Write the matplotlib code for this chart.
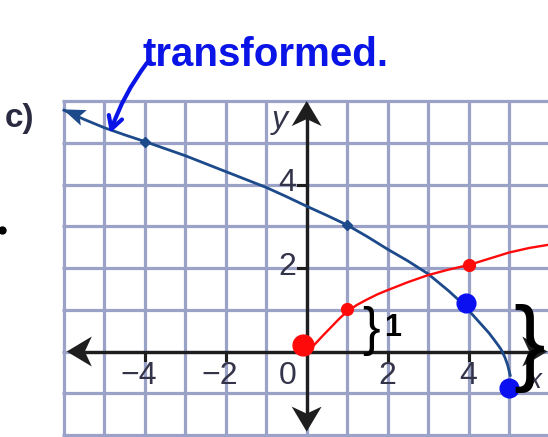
import matplotlib
matplotlib.use("Agg")
import matplotlib.pyplot as plt
from matplotlib.patches import Polygon

# ---------------- data ----------------
blue_x = [-6.0, -5.5, -5.0, -4.5, -4.0, -3.5, -3.0, -2.5, -2.0, -1.5, -1.0, -0.5, 0.0, 0.5, 1.0,
          1.5, 2.0, 2.5, 3.0, 3.5, 3.75, 4.0, 4.25, 4.5, 4.65, 4.8, 4.9, 4.97, 5.03]
blue_y = [5.78, 5.56, 5.36, 5.19, 5.03, 4.86, 4.69, 4.5, 4.31, 4.12, 3.93, 3.71, 3.48, 3.26, 3.03,
          2.75, 2.45, 2.17, 1.86, 1.46, 1.24, 0.99, 0.72, 0.45, 0.26, 0.06, -0.14, -0.33, -0.57]
blue_small_x = [-4, 1]
blue_small_y = [5.03, 3.03]
blue_dot_x = [3.93, 5.0]
blue_dot_y = [1.15, -0.87]

red_x = [0.0, 0.16, 0.4, 0.58, 0.8, 1.0, 1.25, 1.5, 1.75, 2.0, 2.5, 3.0, 3.5, 4.0, 4.5, 5.0, 5.5, 6.0]
red_y = [0.02, 0.13, 0.38, 0.56, 0.78, 0.96, 1.12, 1.25, 1.37, 1.47, 1.66, 1.83, 1.96, 2.07, 2.22, 2.37, 2.48, 2.56]
red_dot_x = [1.0, 4.0]
red_dot_y = [1.03, 2.07]
red_blob_x = [-0.08]
red_blob_y = [0.16]

xtick_pos = [-4, -2, 2, 4]
xtick_labels = ["−4", "−2", "2", "4"]
ytick_pos = [2, 4]
ytick_labels = ["2", "4"]

# ---------------- figure ----------------
fig = plt.figure(figsize=(5.48, 4.37), dpi=100)
fig.patch.set_facecolor("white")
ax = fig.add_axes([0, 0, 1, 1])
ax.set_xlim(-7.58, 5.965)
ax.set_ylim(-2.048, 8.42)
ax.axis("off")

grid_c = "#9aa2c8"
for gx in range(-6, 7):
    ax.plot([gx, gx], [-2, 6], color=grid_c, lw=2.3, zorder=1, solid_capstyle="butt")
for gy in range(-2, 7):
    ax.plot([-6.04, 6.04], [gy, gy], color=grid_c, lw=2.3, zorder=1, solid_capstyle="butt")

# axes
axc = "#1e1e1e"
ax.plot([-5.6, 5.6], [0, 0], color=axc, lw=2.4, zorder=3)
ax.plot([0, 0], [-1.6, 5.6], color=axc, lw=2.4, zorder=3)


def stealth(tip, direction, L=0.62, W=0.36, notch=0.72, color=axc, z=4):
    tx, ty = tip
    dx, dy = direction
    px, py = -dy, dx
    back = (tx - dx * L, ty - dy * L)
    p1 = (back[0] + px * W, back[1] + py * W)
    p2 = (back[0] - px * W, back[1] - py * W)
    nt = (tx - dx * L * notch, ty - dy * L * notch)
    ax.add_patch(Polygon([tip, p1, nt, p2], closed=True, color=color, zorder=z, lw=0))


stealth((-5.93, 0), (-1, 0))
stealth((5.95, 0), (1, 0))
stealth((0, 6.0), (0, 1), L=0.6, W=0.37)
stealth((0, -1.92), (0, -1), L=0.6, W=0.37)

# ticks
for t in xtick_pos:
    ax.plot([t, t], [0, -0.2], color=axc, lw=2.2, zorder=3)
for t in ytick_pos:
    ax.plot([-0.21, 0], [t, t], color=axc, lw=2.2, zorder=3)

lab_c = "#33334a"
fnt = "Liberation Sans"
for t, s in zip(xtick_pos, xtick_labels):
    ax.text(t - (0.14 if s.startswith("−") else 0), -0.575, s, fontsize=23, family=fnt,
            color=lab_c, ha="center", va="center", zorder=5)
ax.text(-0.47, -0.575, "0", fontsize=23, family=fnt, color=lab_c, ha="center", va="center", zorder=5)
for t, s in zip(ytick_pos, ytick_labels):
    ax.text(-0.47, t + 0.03, s, fontsize=23, family=fnt, color=lab_c, ha="center", va="center", zorder=5)
ax.text(-0.66, 5.54, "y", fontsize=23, family=fnt, style="italic", color=lab_c,
        ha="center", va="center", zorder=5)
ax.text(5.62, -0.7, "x", fontsize=20, family=fnt, style="italic", color=lab_c,
        ha="center", va="center", zorder=5)

# blue transformed curve
bc = "#1d4a8a"
ax.plot(blue_x, blue_y, color=bc, lw=2.0, zorder=6, solid_joinstyle="round")
stealth((-6.02, 5.8), (-0.93, 0.37), L=0.55, W=0.2, notch=0.8, color=bc, z=6)
ax.plot(blue_small_x, blue_small_y, "D", color=bc, ms=5, zorder=6)
ax.plot(blue_dot_x, blue_dot_y, "o", color="#0a10f0", ms=13.5, zorder=8)

# red curve
ax.plot(red_x, red_y, color="#ff0a0a", lw=1.7, zorder=7, solid_joinstyle="round")
ax.plot(red_dot_x, red_dot_y, "o", color="#ff0a0a", ms=8.5, zorder=8)
ax.plot(red_blob_x, red_blob_y, "o", color="#ff0a0a", ms=15, zorder=8)

# handwritten annotations
ax.text(1.6, 0.5, "}", fontsize=38, family=fnt, color="black", ha="center", va="center", zorder=9)
ax.text(2.12, 0.56, "1", fontsize=22, family=fnt, fontweight="bold", color="black",
        ha="center", va="center", zorder=9)
ax.text(5.5, 0.07, "}", fontsize=68, family=fnt, color="black", ha="center", va="center", zorder=9)

ax.text(-4.05, 6.84, "transformed.", fontsize=29, family=fnt, fontweight="bold",
        color="#0a14e6", ha="left", va="baseline", zorder=9)
ax.annotate("", xy=(-4.86, 5.23), xytext=(-3.95, 6.91),
            arrowprops=dict(arrowstyle="->,head_length=0.9,head_width=0.5", color="#0a14e6", lw=3,
                            shrinkA=0, shrinkB=0, connectionstyle="arc3,rad=0.08"), zorder=9)

ax.text(-7.09, 5.59, "c)", fontsize=24, family=fnt, fontweight="bold", color="#2a2a40",
        ha="center", va="center", zorder=9)
ax.plot([-7.53], [2.91], "o", color="black", ms=5, zorder=9)

fig.savefig("out.png", dpi=100, facecolor="white")
